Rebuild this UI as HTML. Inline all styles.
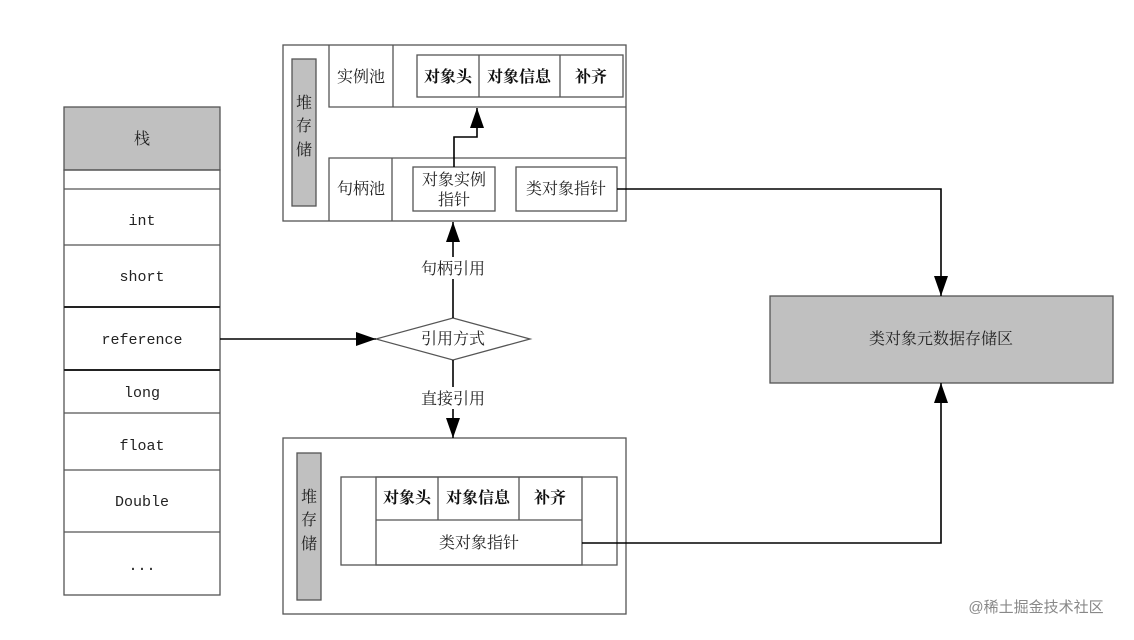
<!DOCTYPE html>
<html><head><meta charset="utf-8"><style>
body{margin:0;background:#fff}
text{font-family:"Liberation Serif","Noto Serif CJK SC",serif;font-size:16px;fill:#222}
.m{font-family:"Liberation Mono","Noto Sans CJK SC",monospace;font-size:15px}
.b{font-weight:bold;fill:#111}
</style></head><body>
<svg width="1134" height="635" viewBox="0 0 1134 635" xmlns="http://www.w3.org/2000/svg">
<defs><marker id="a" markerWidth="10" markerHeight="10" refX="9" refY="5" orient="auto" markerUnits="userSpaceOnUse"><path d="M0,0 L10,5 L0,10 z" fill="#000"/></marker>
<marker id="A" viewBox="0 0 20 14" markerWidth="20" markerHeight="14" refX="20" refY="7" orient="auto" markerUnits="userSpaceOnUse"><path d="M0,0 L20,7 L0,14 z" fill="#000"/></marker></defs>
<g fill="none" stroke="#555" stroke-width="1.3">
<!-- stack -->
<rect x="64" y="107" width="156" height="63" fill="#c0c0c0"/>
<rect x="64" y="170" width="156" height="425"/>
<line x1="64" y1="189" x2="220" y2="189"/><line x1="64" y1="245" x2="220" y2="245"/>
<line x1="64" y1="307" x2="220" y2="307" stroke="#222" stroke-width="2"/><line x1="64" y1="370" x2="220" y2="370" stroke="#222" stroke-width="2"/>
<line x1="64" y1="413" x2="220" y2="413"/><line x1="64" y1="470" x2="220" y2="470"/><line x1="64" y1="532" x2="220" y2="532"/>
<!-- top heap -->
<rect x="283" y="45" width="343" height="176"/>
<rect x="292" y="59" width="24" height="147" fill="#c0c0c0"/>
<polyline points="329,45 329,107 626,107"/><line x1="393" y1="45" x2="393" y2="107"/>
<rect x="417" y="55" width="206" height="42"/><line x1="479" y1="55" x2="479" y2="97"/><line x1="560" y1="55" x2="560" y2="97"/>
<polyline points="329,221 329,158 626,158"/><line x1="392" y1="158" x2="392" y2="221"/>
<rect x="413" y="167" width="82" height="44"/><rect x="516" y="167" width="101" height="44"/>
<!-- bottom heap -->
<rect x="283" y="438" width="343" height="176"/>
<rect x="297" y="453" width="24" height="147" fill="#c0c0c0"/>
<rect x="341" y="477" width="276" height="88"/>
<rect x="376" y="477" width="206" height="88"/>
<line x1="376" y1="520" x2="582" y2="520"/><line x1="438" y1="477" x2="438" y2="520"/><line x1="519" y1="477" x2="519" y2="520"/>
<!-- diamond -->
<polygon points="376,339 453,318 530,339 453,360"/>
<!-- right box -->
<rect x="770" y="296" width="343" height="87" fill="#c0c0c0"/>
</g>
<g fill="none" stroke="#000" stroke-width="1.6">
<line x1="220" y1="339" x2="376" y2="339" marker-end="url(#A)"/>
<line x1="453" y1="318" x2="453" y2="222" marker-end="url(#A)"/>
<line x1="453" y1="360" x2="453" y2="438" marker-end="url(#A)"/>
<polyline points="454,167 454,137 477,137 477,108" marker-end="url(#A)"/>
<polyline points="617,189 941,189 941,296" marker-end="url(#A)"/>
<polyline points="582,543 941,543 941,383" marker-end="url(#A)"/>
</g>
<rect x="410" y="257" width="90" height="22" fill="#fff"/>
<rect x="410" y="387" width="90" height="22" fill="#fff"/>
<g text-anchor="middle">
<text x="142" y="144">栈</text>
<text class="m" x="142" y="225">int</text>
<text class="m" x="142" y="281">short</text>
<text class="m" x="142" y="344">reference</text>
<text class="m" x="142" y="397">long</text>
<text class="m" x="142" y="450">float</text>
<text class="m" x="142" y="506">Double</text>
<text class="m" x="142" y="570">...</text>
<text x="304" y="108">堆</text><text x="304" y="131">存</text><text x="304" y="155">储</text>
<text x="361" y="82">实例池</text>
<text class="b" x="448" y="82">对象头</text><text class="b" x="519" y="82">对象信息</text><text class="b" x="591" y="82">补齐</text>
<text x="361" y="194">句柄池</text>
<text x="454" y="185">对象实例</text><text x="454" y="205">指针</text>
<text x="566" y="194">类对象指针</text>
<text x="453" y="274">句柄引用</text>
<text x="453" y="344">引用方式</text>
<text x="453" y="404">直接引用</text>
<text x="309" y="502">堆</text><text x="309" y="525">存</text><text x="309" y="549">储</text>
<text class="b" x="407" y="503">对象头</text><text class="b" x="478" y="503">对象信息</text><text class="b" x="550" y="503">补齐</text>
<text x="479" y="548">类对象指针</text>
<text x="941" y="344">类对象元数据存储区</text>
<text x="1036" y="612" style="font-family:'Liberation Sans','Noto Sans CJK SC',sans-serif;font-size:15px;fill:#888">@稀土掘金技术社区</text>
</g>
</svg>
</body></html>
